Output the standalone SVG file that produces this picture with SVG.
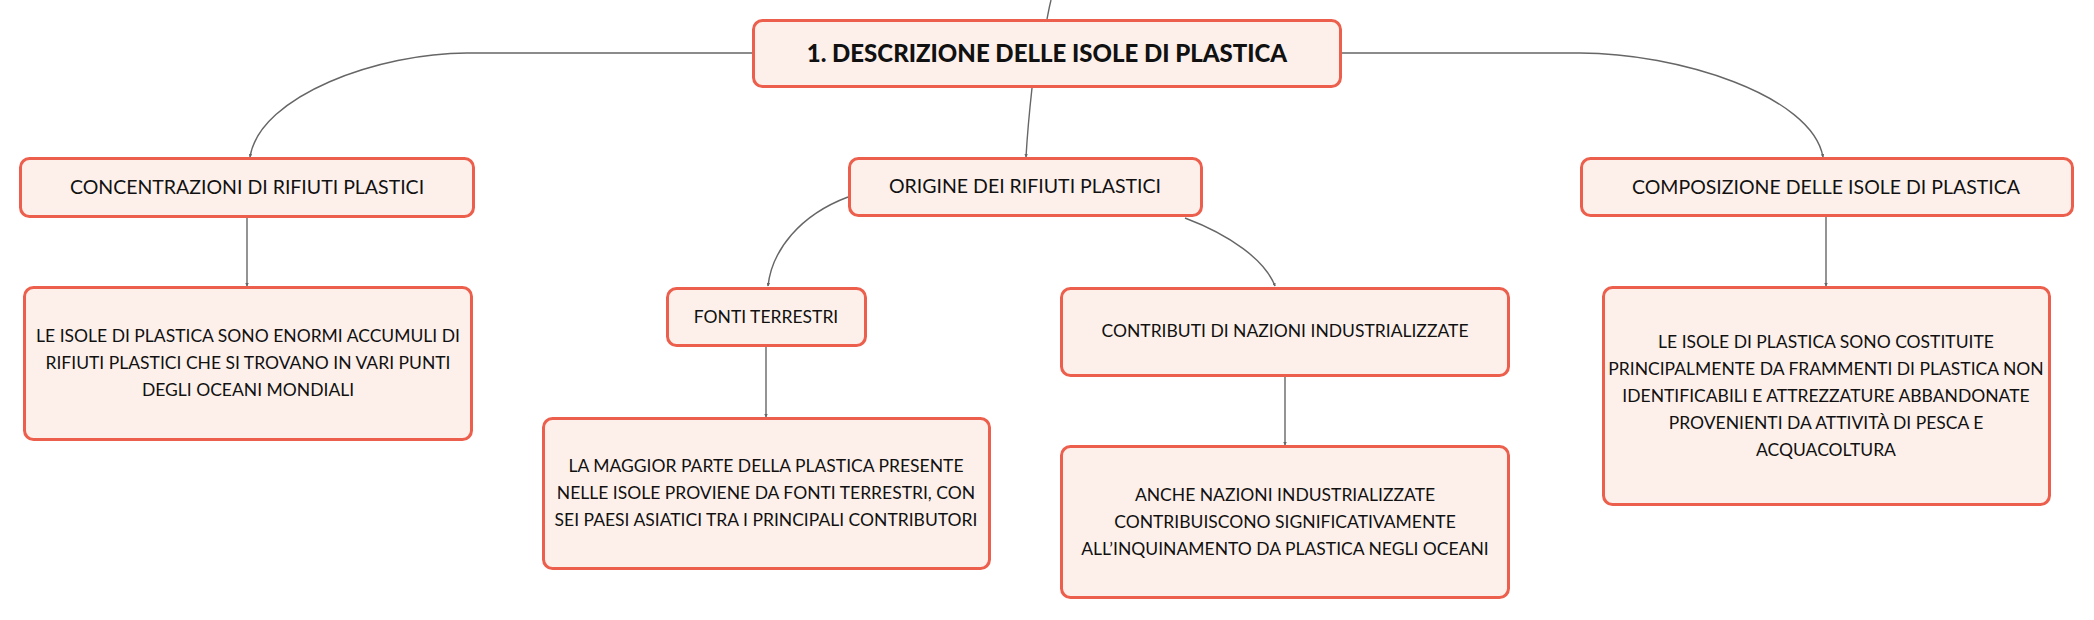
<svg xmlns="http://www.w3.org/2000/svg" width="2094" height="620" viewBox="0 0 2094 620">
<style>
.node rect{fill:#FDF0EB;stroke:#EC5F4C;stroke-width:3}
text{font-family:Lato,"Open Sans","Liberation Sans",sans-serif;fill:#111;text-anchor:middle}
.t1{font-size:24px;font-weight:900}
.t2{font-size:19.5px}
.t3{font-size:17.5px}
.t4{font-size:17.5px}
.conn path{fill:none;stroke:#666;stroke-width:1.4}
</style>
<defs>
<marker id="arr" viewBox="0 0 6 6" refX="5" refY="3" markerWidth="3.5" markerHeight="3.5" markerUnits="userSpaceOnUse" orient="auto">
<path d="M0,0 L6,3 L0,6 z" fill="#666"/>
</marker>
</defs>
<rect width="2094" height="620" fill="#fff"/>
<g class="conn">
<path d="M1051,0 C1049,8 1048,14 1047,19"/>
<path d="M752,53 L467,53 C380,53 260,95 250,157" marker-end="url(#arr)"/>
<path d="M1342,53 L1580,53 C1677,53 1812,95 1823,157" marker-end="url(#arr)"/>
<path d="M1032,88 C1029,115 1027,140 1026,157" marker-end="url(#arr)"/>
<path d="M247,218 L247,286" marker-end="url(#arr)"/>
<path d="M848,197 C800,215 772,250 768,286" marker-end="url(#arr)"/>
<path d="M1185,218 C1230,235 1265,260 1275,286" marker-end="url(#arr)"/>
<path d="M766,347 L766,417" marker-end="url(#arr)"/>
<path d="M1285,377 L1285,445" marker-end="url(#arr)"/>
<path d="M1826,217 L1826,286" marker-end="url(#arr)"/>
</g>
<g id="n-main" class="node">
<rect x="753.5" y="20.5" width="587" height="66" rx="9"/>
<text class="t1" x="1047" y="62">1. DESCRIZIONE DELLE ISOLE DI PLASTICA</text>
</g>
<g id="n-concentrazioni" class="node">
<rect x="20.5" y="158.5" width="453" height="58" rx="9"/>
<text class="t2" x="247" y="194">CONCENTRAZIONI DI RIFIUTI PLASTICI</text>
</g>
<g id="n-isole-def" class="node">
<rect x="24.5" y="287.5" width="447" height="152" rx="9"/>
<text class="t4" x="248" y="342">LE ISOLE DI PLASTICA SONO ENORMI ACCUMULI DI</text>
<text class="t4" x="248" y="369">RIFIUTI PLASTICI CHE SI TROVANO IN VARI PUNTI</text>
<text class="t4" x="248" y="396">DEGLI OCEANI MONDIALI</text>
</g>
<g id="n-origine" class="node">
<rect x="849.5" y="158.5" width="352" height="57" rx="9"/>
<text class="t2" x="1025" y="193">ORIGINE DEI RIFIUTI PLASTICI</text>
</g>
<g id="n-fonti" class="node">
<rect x="667.5" y="288.5" width="198" height="57" rx="9"/>
<text class="t3" x="766" y="323">FONTI TERRESTRI</text>
</g>
<g id="n-maggior" class="node">
<rect x="543.5" y="418.5" width="446" height="150" rx="9"/>
<text class="t4" x="766" y="472">LA MAGGIOR PARTE DELLA PLASTICA PRESENTE</text>
<text class="t4" x="766" y="499">NELLE ISOLE PROVIENE DA FONTI TERRESTRI, CON</text>
<text class="t4" x="766" y="526">SEI PAESI ASIATICI TRA I PRINCIPALI CONTRIBUTORI</text>
</g>
<g id="n-contributi" class="node">
<rect x="1061.5" y="288.5" width="447" height="87" rx="9"/>
<text class="t3" x="1285" y="337">CONTRIBUTI DI NAZIONI INDUSTRIALIZZATE</text>
</g>
<g id="n-anche" class="node">
<rect x="1061.5" y="446.5" width="447" height="151" rx="9"/>
<text class="t4" x="1285" y="501">ANCHE NAZIONI INDUSTRIALIZZATE</text>
<text class="t4" x="1285" y="528">CONTRIBUISCONO SIGNIFICATIVAMENTE</text>
<text class="t4" x="1285" y="555">ALL’INQUINAMENTO DA PLASTICA NEGLI OCEANI</text>
</g>
<g id="n-composizione" class="node">
<rect x="1581.5" y="158.5" width="491" height="57" rx="9"/>
<text class="t2" x="1826" y="194">COMPOSIZIONE DELLE ISOLE DI PLASTICA</text>
</g>
<g id="n-isole-comp" class="node">
<rect x="1603.5" y="287.5" width="446" height="217" rx="9"/>
<text class="t4" x="1826" y="348">LE ISOLE DI PLASTICA SONO COSTITUITE</text>
<text class="t4" x="1826" y="375">PRINCIPALMENTE DA FRAMMENTI DI PLASTICA NON</text>
<text class="t4" x="1826" y="402">IDENTIFICABILI E ATTREZZATURE ABBANDONATE</text>
<text class="t4" x="1826" y="429">PROVENIENTI DA ATTIVITÀ DI PESCA E</text>
<text class="t4" x="1826" y="456">ACQUACOLTURA</text>
</g>
</svg>
